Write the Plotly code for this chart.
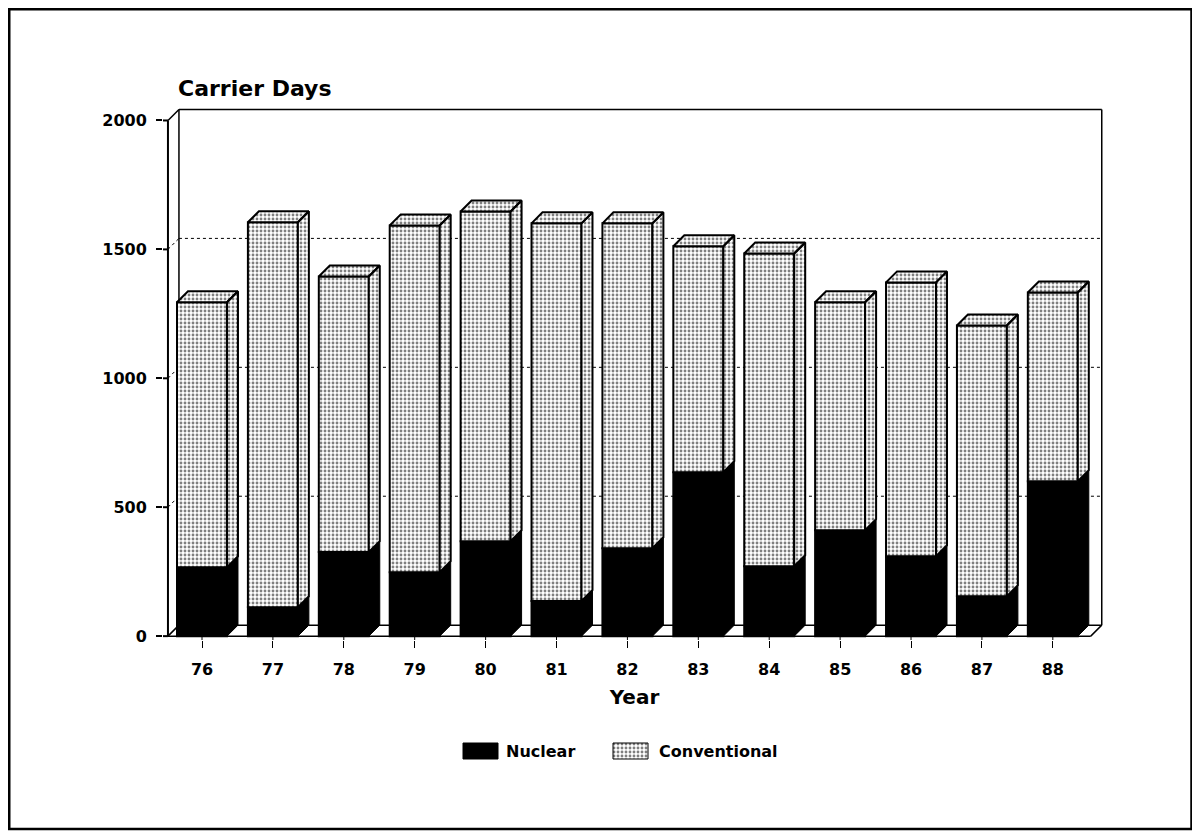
import plotly.graph_objects as go

# ---- data ----
years = ['76', '77', '78', '79', '80', '81', '82', '83', '84', '85', '86', '87', '88']
nuclear = [267, 112, 326, 248, 368, 136, 341, 636, 271, 411, 310, 155, 601]
conventional = [1028, 1493, 1069, 1345, 1279, 1465, 1260, 876, 1213, 884, 1062, 1050, 732]
y_ticks = [0, 500, 1000, 1500, 2000]
y_max = 2000
series_names = ['Nuclear', 'Conventional']

# ---- styling / geometry ----
FIG_W, FIG_H = 1192, 823
FONT = "DejaVu Sans"
W = 0.705          # bar width in category units
DX = 0.155         # 3D depth, x (category units)
DY = 42.6          # 3D depth, y (value units)
XL, XR = -0.55, 12.75
YB, YT = -15, 2060
PL, PR, PT, PB = 155, 1098, 97, 632     # plot area in figure pixels
X_FRONT_L = -0.48
X_BACK_R = 12.69
X_BACK_L = X_FRONT_L + DX
X_FRONT_R = X_BACK_R - DX
PAT = dict(shape='.', fgcolor='black', bgcolor='white', size=4, solidity=0.4)
LW = 2

idx = list(range(len(years)))
total = [n + c for n, c in zip(nuclear, conventional)]

fig = go.Figure()

# front faces
fig.add_bar(x=idx, y=nuclear, base=[0] * len(idx), width=W, name=series_names[0],
            marker=dict(color='black', line=dict(color='black', width=LW)),
            hoverinfo='skip', showlegend=False)
fig.add_bar(x=idx, y=conventional, base=nuclear, width=W, name=series_names[1],
            marker=dict(color='white', pattern=PAT, line=dict(color='black', width=LW)),
            hoverinfo='skip', showlegend=False)

# side faces (nuclear)
sx, sy = [], []
for i, n in zip(idx, nuclear):
    x1 = i + W / 2
    sx += [x1, x1 + DX, x1 + DX, x1, x1, None]
    sy += [0, DY, n + DY, n, 0, None]
fig.add_trace(go.Scatter(x=sx, y=sy, mode='lines', fill='toself', fillcolor='black',
                         line=dict(color='black', width=1), showlegend=False, hoverinfo='skip'))

# side + top faces (conventional)
cx, cy = [], []
for i, n, t in zip(idx, nuclear, total):
    x0 = i - W / 2
    x1 = i + W / 2
    cx += [x1, x1 + DX, x1 + DX, x1, x1, None]
    cy += [n, n + DY, t + DY, t, n, None]
    cx += [x0, x0 + DX, x1 + DX, x1, x0, None]
    cy += [t, t + DY, t + DY, t, t, None]
fig.add_trace(go.Scatter(x=cx, y=cy, mode='lines', fill='toself', fillcolor='white',
                         fillpattern=PAT, line=dict(color='black', width=LW),
                         showlegend=False, hoverinfo='skip'))

# ---- custom legend (own small axes, figure-pixel units) ----
LEG_X0, LEG_X1, LEG_Y0, LEG_Y1 = 400, 800, 730, 760
fig.add_bar(x=[472.5], y=[16], base=[735], width=[35], xaxis='x2', yaxis='y2',
            marker=dict(color='black', line=dict(color='black', width=1)),
            showlegend=False, hoverinfo='skip')
fig.add_bar(x=[622.5], y=[16], base=[735], width=[35], xaxis='x2', yaxis='y2',
            marker=dict(color='white', pattern=PAT, line=dict(color='black', width=1)),
            showlegend=False, hoverinfo='skip')

shapes = []
L = dict(color='black', width=1.5)
D = dict(color='black', width=1, dash='dot')
# gridlines on back wall + diagonal connectors
for v in y_ticks[1:-1]:
    shapes.append(dict(type='line', xref='x', yref='y', x0=X_BACK_L, x1=X_BACK_R,
                       y0=v + DY, y1=v + DY, line=D, layer='below'))
    shapes.append(dict(type='line', xref='x', yref='y', x0=X_FRONT_L, x1=X_BACK_L,
                       y0=v, y1=v + DY, line=D, layer='below'))
# back wall frame / floor / front axis
shapes += [
    dict(type='line', xref='x', yref='y', x0=X_BACK_L, x1=X_BACK_L, y0=DY, y1=y_max + DY, line=L, layer='below'),
    dict(type='line', xref='x', yref='y', x0=X_BACK_L, x1=X_BACK_R, y0=y_max + DY, y1=y_max + DY, line=L, layer='below'),
    dict(type='line', xref='x', yref='y', x0=X_BACK_R, x1=X_BACK_R, y0=DY, y1=y_max + DY, line=L, layer='below'),
    dict(type='line', xref='x', yref='y', x0=X_BACK_L, x1=X_BACK_R, y0=DY, y1=DY, line=L, layer='below'),
    dict(type='line', xref='x', yref='y', x0=X_FRONT_L, x1=X_FRONT_R, y0=0, y1=0, line=L, layer='below'),
    dict(type='line', xref='x', yref='y', x0=X_FRONT_R, x1=X_BACK_R, y0=0, y1=DY, line=L, layer='below'),
    dict(type='line', xref='x', yref='y', x0=X_FRONT_L, x1=X_BACK_L, y0=0, y1=DY, line=L, layer='below'),
    dict(type='line', xref='x', yref='y', x0=X_FRONT_L, x1=X_FRONT_L, y0=0, y1=y_max, line=dict(color='black', width=2)),
    dict(type='line', xref='x', yref='y', x0=X_FRONT_L, x1=X_BACK_L, y0=y_max, y1=y_max + DY, line=L),
]
# tick stubs joining axis ticks to the front axis / floor
for v in y_ticks:
    shapes.append(dict(type='line', xref='x', yref='y', x0=XL, x1=X_FRONT_L, y0=v, y1=v,
                       line=dict(color='black', width=2)))
for i in idx:
    shapes.append(dict(type='line', xref='x', yref='y', x0=i, x1=i, y0=YB, y1=0,
                       line=dict(color='black', width=1)))
# outer border
shapes.append(dict(type='rect', xref='paper', yref='paper',
                   x0=1.25 / FIG_W, x1=1183.5 / FIG_W, y0=1 - 821 / FIG_H, y1=1 - 1.25 / FIG_H,
                   line=dict(color='black', width=2.5)))

annotations = [
    dict(text='Carrier Days', xref='paper', yref='paper', x=168 / FIG_W, y=1 - 80 / FIG_H,
         xanchor='left', yanchor='middle', showarrow=False,
         font=dict(family=FONT, size=22, weight='bold', color='black')),
    dict(text=series_names[0], xref='x2', yref='y2', x=496, y=743, xanchor='left', yanchor='middle',
         showarrow=False, font=dict(family=FONT, size=16, weight='bold', color='black')),
    dict(text=series_names[1], xref='x2', yref='y2', x=649, y=743, xanchor='left', yanchor='middle',
         showarrow=False, font=dict(family=FONT, size=16, weight='bold', color='black')),
]

fig.update_layout(
    width=FIG_W, height=FIG_H,
    margin=dict(l=0, r=0, t=0, b=0, autoexpand=False),
    paper_bgcolor='white', plot_bgcolor='white',
    barmode='overlay',
    font=dict(family=FONT, color='black', size=16, weight='bold'),
    shapes=shapes,
    annotations=annotations,
    showlegend=False,
    xaxis=dict(domain=[PL / FIG_W, PR / FIG_W], range=[XL, XR], tickvals=idx, ticktext=years,
               showgrid=False, zeroline=False, showline=False, ticks='outside', ticklen=7,
               tickwidth=1, tickcolor='black', ticklabelstandoff=8, automargin=False,
               tickfont=dict(family=FONT, size=16, weight='bold'),
               title=dict(text='Year', standoff=11,
                          font=dict(family=FONT, size=20, weight='bold'))),
    yaxis=dict(domain=[1 - PB / FIG_H, 1 - PT / FIG_H], range=[YB, YT], tickvals=y_ticks,
               showgrid=False, zeroline=False, showline=False, ticks='outside', ticklen=6,
               tickwidth=2, tickcolor='black', ticklabelstandoff=6, automargin=False,
               tickfont=dict(family=FONT, size=16, weight='bold')),
    xaxis2=dict(domain=[LEG_X0 / FIG_W, LEG_X1 / FIG_W], range=[LEG_X0, LEG_X1], visible=False,
                anchor='y2', fixedrange=True, automargin=False),
    yaxis2=dict(domain=[1 - LEG_Y1 / FIG_H, 1 - LEG_Y0 / FIG_H], range=[LEG_Y1, LEG_Y0],
                visible=False, anchor='x2', fixedrange=True, automargin=False),
)

fig.write_html("out.html")
